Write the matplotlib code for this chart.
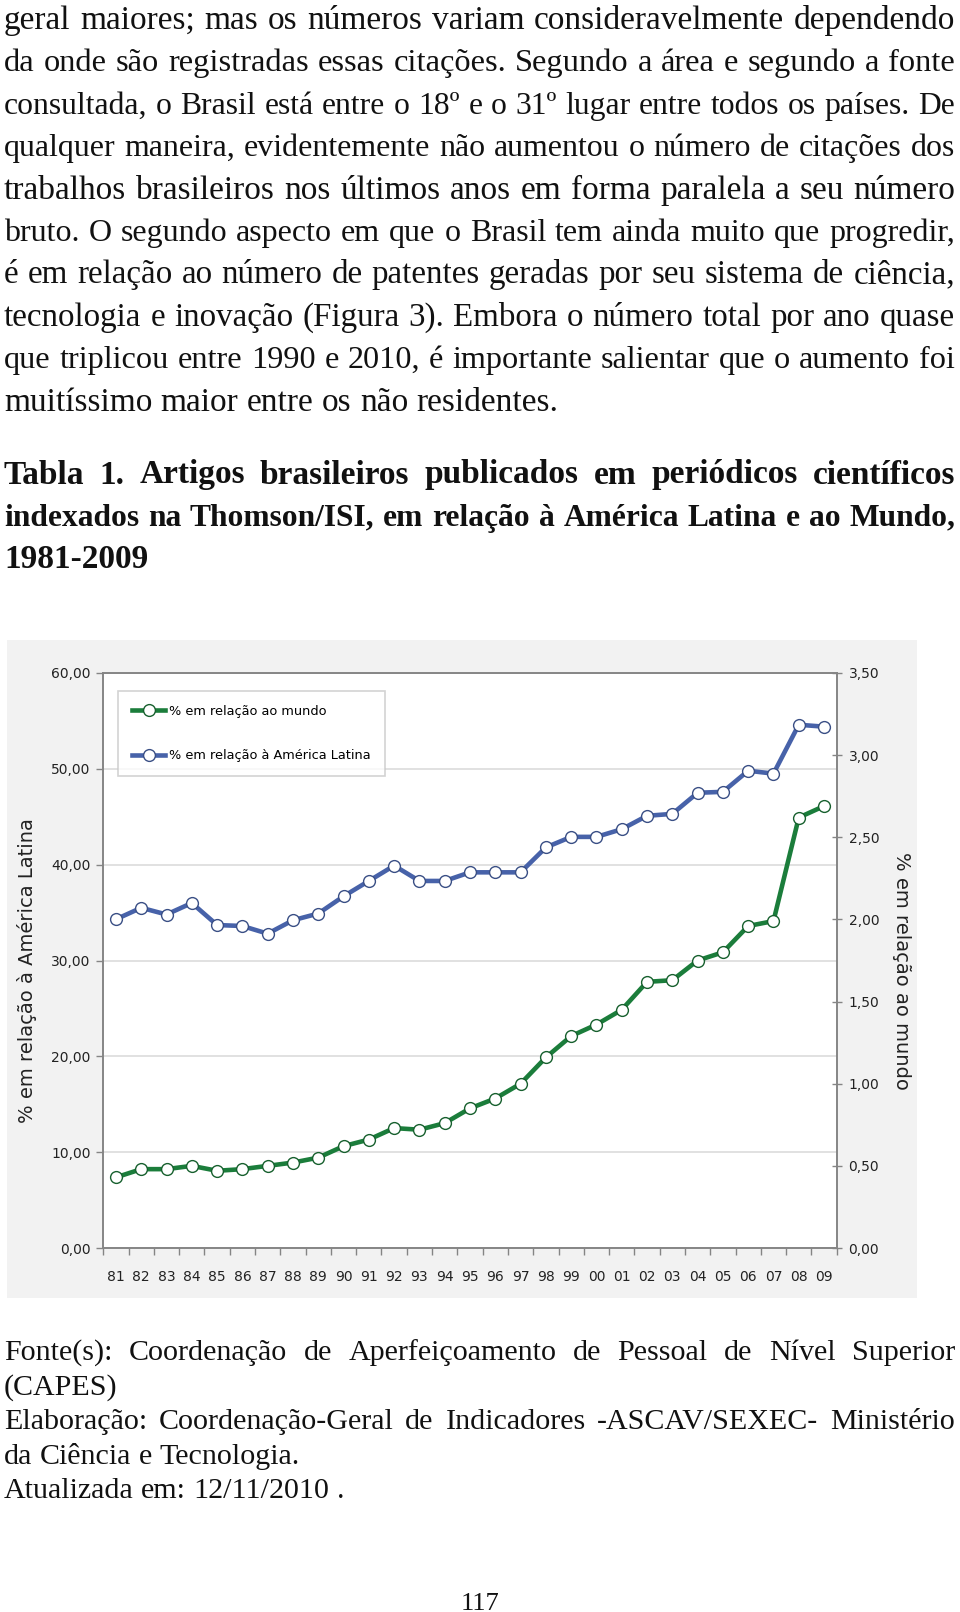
import numpy as np
import matplotlib
matplotlib.use('Agg')
import matplotlib.pyplot as plt
from matplotlib.patches import Rectangle
from matplotlib.font_manager import FontProperties
from matplotlib.ticker import FuncFormatter

W, H = 960, 1612

# dados (1981-2009)
years = ['81', '82', '83', '84', '85', '86', '87', '88', '89', '90',
         '91', '92', '93', '94', '95', '96', '97', '98', '99', '00',
         '01', '02', '03', '04', '05', '06', '07', '08', '09']
pct_latam = [34.3, 35.5, 34.8, 36.0, 33.7, 33.6, 32.8, 34.2, 34.9, 36.7,
             38.3, 39.9, 38.3, 38.3, 39.2, 39.2, 39.2, 41.8, 42.9, 42.9,
             43.7, 45.1, 45.3, 47.5, 47.6, 49.8, 49.5, 54.6, 54.4]
pct_world = [0.43, 0.48, 0.48, 0.50, 0.47, 0.48, 0.50, 0.52, 0.55, 0.62,
             0.66, 0.73, 0.72, 0.76, 0.85, 0.91, 1.00, 1.16, 1.29, 1.36,
             1.45, 1.62, 1.63, 1.75, 1.80, 1.96, 1.99, 2.62, 2.69]
left_ticks = [0, 10, 20, 30, 40, 50, 60]
right_ticks = [0, 0.5, 1.0, 1.5, 2.0, 2.5, 3.0, 3.5]

label_world = '% em relação ao mundo'
label_latam = '% em relação à América Latina'

body_lines = [
    'geral maiores; mas os números variam consideravelmente dependendo',
    'da onde são registradas essas citações. Segundo a área e segundo a fonte',
    'consultada, o Brasil está entre o 18º e o 31º lugar entre todos os países. De',
    'qualquer maneira, evidentemente não aumentou o número de citações dos',
    'trabalhos brasileiros nos últimos anos em forma paralela a seu número',
    'bruto. O segundo aspecto em que o Brasil tem ainda muito que progredir,',
    'é em relação ao número de patentes geradas por seu sistema de ciência,',
    'tecnologia e inovação (Figura 3). Embora o número total por ano quase',
    'que triplicou entre 1990 e 2010, é importante salientar que o aumento foi',
    'muitíssimo maior entre os não residentes.',
]
title_lines = [
    'Tabla 1. Artigos brasileiros publicados em periódicos científicos',
    'indexados na Thomson/ISI, em relação à América Latina e ao Mundo,',
    '1981-2009',
]
foot_lines = [
    'Fonte(s): Coordenação de Aperfeiçoamento de Pessoal de Nível Superior',
    '(CAPES)',
    'Elaboração: Coordenação-Geral de Indicadores -ASCAV/SEXEC- Ministério',
    'da Ciência e Tecnologia.',
    'Atualizada em: 12/11/2010 .',
]

fig = plt.figure(figsize=(W / 100, H / 100), dpi=100)
fig.patch.set_facecolor('white')
renderer = fig.canvas.get_renderer()

X0, X1 = 4, 955


def fy(y):
    return 1 - y / H


def text_width(s, prop):
    return renderer.get_text_width_height_descent(s, prop, ismath=False)[0]


def put_block(lines, justified, y0, step, size, weight='normal'):
    for i, (line, j) in enumerate(zip(lines, justified)):
        # cada linha encolhe só se não couber na largura da coluna
        s = size
        prop = FontProperties(family='Liberation Serif', size=s, weight=weight)
        w = text_width(line, prop)
        if w > X1 - X0:
            s = s * (X1 - X0) / w * 0.99
            prop = FontProperties(family='Liberation Serif', size=s, weight=weight)
        space = text_width('a a', prop) - text_width('aa', prop)
        y = y0 + i * step
        words = line.split(' ')
        widths = [text_width(wd, prop) for wd in words]
        if j and len(words) > 1:
            gap = (X1 - X0 - sum(widths)) / (len(words) - 1)
        else:
            gap = space
        xpos = X0
        for wd, ww in zip(words, widths):
            fig.text(xpos / W, fy(y), wd, fontproperties=prop, va='baseline',
                     ha='left', color='#111111')
            xpos += ww + gap


# texto da página
put_block(body_lines, [True] * 9 + [False], 29, 42.4, 24)
put_block(title_lines, [True, True, False], 483.5, 42.2, 24, 'bold')
put_block(foot_lines, [True, False, True, False, False], 1360, 34.5, 21.6)
fig.text(480 / W, fy(1610), '117', fontsize=19, family='Liberation Serif',
         ha='center', va='baseline', color='#111111')

# fundo cinza do gráfico
fig.patches.append(Rectangle((6.7 / W, fy(1298)), 910 / W, 658 / H,
                             transform=fig.transFigure, facecolor='#f2f2f2',
                             edgecolor='none', zorder=-1))

blue = '#4762a9'
green = '#1b7d3b'
spine_c = '#858585'

ax = fig.add_axes([103.3 / W, fy(1248), 733.4 / W, 575 / H])
ax.set_facecolor('white')
x = np.arange(len(years))

ax.plot(x, pct_latam, color=blue, lw=3.3, marker='o', ms=8.5, mfc='white',
        mec='#3a4f85', mew=1.0, label=label_latam, zorder=3)
ax.set_xlim(-0.5, len(years) - 0.5)
ax.set_ylim(0, 60)
ax.set_yticks(left_ticks)
ax.yaxis.set_major_formatter(FuncFormatter(lambda v, p: f'{v:.2f}'.replace('.', ',')))
ax.yaxis.grid(True, color='#d9d9d9', lw=1.1)
ax.set_axisbelow(True)

ax.set_xticks(np.arange(-0.5, len(years)))
ax.set_xticklabels([])
ax.set_xticks(x, minor=True)
ax.set_xticklabels(years, minor=True)
ax.tick_params(axis='x', which='major', direction='out', length=5, width=1, color=spine_c)
ax.tick_params(axis='x', which='minor', length=0, pad=16, labelsize=10, labelcolor='#222222')
ax.tick_params(axis='y', direction='out', length=5, width=1, color=spine_c, pad=4,
               labelsize=10, labelcolor='#222222')

ax2 = ax.twinx()
ax2.plot(x, pct_world, color=green, lw=3.3, marker='o', ms=8.5, mfc='white',
         mec='#17602e', mew=1.0, label=label_world, zorder=3)
ax2.set_ylim(0, 3.5)
ax2.set_yticks(right_ticks)
ax2.yaxis.set_major_formatter(FuncFormatter(lambda v, p: f'{v:.2f}'.replace('.', ',')))
ax2.tick_params(axis='y', direction='inout', length=7, width=1, color=spine_c, pad=5,
                labelsize=10, labelcolor='#222222')

for a in (ax, ax2):
    for s in a.spines.values():
        s.set_color(spine_c)
        s.set_linewidth(1.2)

h1, l1 = ax.get_legend_handles_labels()
h2, l2 = ax2.get_legend_handles_labels()
leg = ax2.legend(h2 + h1, l2 + l1, loc='upper left',
                 bbox_to_anchor=(118.3 / W, fy(691)), bbox_transform=fig.transFigure,
                 borderaxespad=0, fancybox=False, frameon=True, fontsize=9.3,
                 handlelength=2.6, handletextpad=0.3, labelspacing=2.45,
                 borderpad=1.05)
leg.get_frame().set_edgecolor('#c8c8c8')
leg.get_frame().set_linewidth(1.2)

fig.text(26.7 / W, fy(971), label_latam, rotation=90, ha='center', va='center',
         fontsize=14, color='#222222')
fig.text(901.7 / W, fy(971), label_world, rotation=270, ha='center', va='center',
         fontsize=14, color='#222222')

fig.savefig('out.png', dpi=100)
